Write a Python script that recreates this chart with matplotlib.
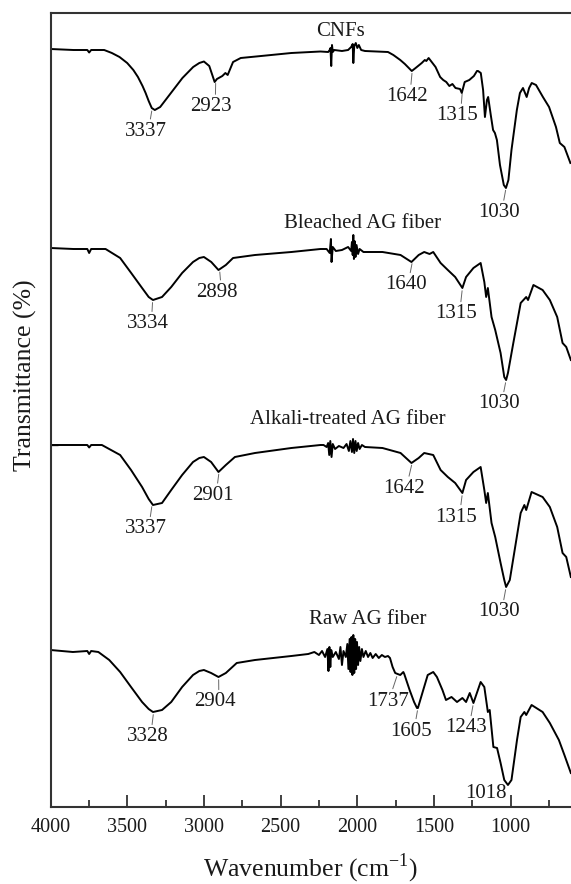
import numpy as np
import matplotlib
matplotlib.use("Agg")
import matplotlib.pyplot as plt
from matplotlib.ticker import MultipleLocator

plt.rcParams['font.family'] = ['Liberation Serif', 'DejaVu Serif']
plt.rcParams['mathtext.fontset'] = 'custom'
plt.rcParams['mathtext.rm'] = 'Liberation Serif'

# ---------------- data (wavenumber cm-1, stacked transmittance a.u.) ----------------
cnf_wn = [4000, 3850, 3760, 3748, 3735, 3650, 3600, 3550, 3500, 3460, 3430, 3400, 3380, 3360, 3340, 3320,
          3285, 3240, 3190, 3140, 3070, 3030, 3000, 2965, 2930, 2915, 2880, 2860, 2845, 2810, 2760,
          2660, 2430, 2240, 2190, 2180, 2175, 2170, 2165, 2160, 2150, 2100, 2060, 2040, 2030, 2026,
          2020, 2010, 2000, 1990, 1975, 1950, 1800, 1765, 1720, 1690, 1645, 1620, 1580, 1560, 1550,
          1535, 1510, 1490, 1460, 1440, 1420, 1400, 1380, 1360, 1330, 1319, 1300, 1270, 1240, 1220,
          1213, 1195, 1180, 1168, 1155, 1147, 1130, 1115, 1103, 1090, 1070, 1045, 1031, 1015, 995,
          960, 940, 920, 896, 880, 863, 835, 790, 750, 705, 680, 650, 611]
cnf_t = [758, 757, 757, 754.5, 757, 757, 754, 750, 744, 737, 730, 721, 714, 706, 699, 697,
         700, 709, 719, 729, 740, 744, 745.5, 741, 725, 728, 731, 734, 732, 745, 749,
         750.5, 754, 755.5, 755, 757, 759, 741, 762, 755, 757, 756, 757, 760, 763, 744,
         761, 764, 759, 762, 757, 756, 755, 752, 747, 743, 736, 739, 744, 747, 746,
         749, 744, 740, 730, 727, 725, 721, 723, 719, 718, 714, 725, 727, 731, 736,
         736, 734, 717, 690, 707, 710, 692, 677, 674, 667, 642, 622, 619, 627, 657,
         697, 714, 719, 710, 719, 724, 722, 710, 700, 680, 664, 660, 644]

bleached_wn = [4000, 3850, 3760, 3748, 3735, 3641, 3546, 3474, 3403, 3360, 3332, 3273, 3213, 3142,
               3071, 3030, 3000, 2952, 2905, 2857, 2810, 2667, 2430, 2240, 2200, 2180, 2172, 2168,
               2160, 2140, 2100, 2060, 2040, 2035, 2030, 2026, 2022, 2018, 2012, 2005, 1995, 1985,
               1960, 1836, 1718, 1647, 1600, 1564, 1529, 1505, 1457, 1410, 1362, 1315, 1291, 1243,
               1196, 1172, 1160, 1149, 1125, 1101, 1066, 1042, 1030, 1018, 983, 935, 899, 887, 852,
               792, 745, 697, 662, 638, 608]
bleached_t = [559, 558, 558, 554, 558, 558, 549, 534, 519, 510, 507, 510, 520, 534,
              545, 549, 550, 545, 537, 542, 549, 552, 555, 558, 558, 554, 568, 545,
              560, 556, 557, 560, 556, 565, 552, 572, 548, 566, 550, 562, 553, 558,
              555, 555, 552, 545, 552, 555, 553, 555, 544, 537, 530, 519, 530, 539,
              544, 525, 510, 519, 490, 477, 454, 430, 427, 434, 464, 504, 510, 507, 522,
              517, 507, 490, 464, 460, 447]

alkali_wn = [4000, 3760, 3748, 3735, 3665, 3546, 3475, 3403, 3360, 3332, 3273, 3213, 3142, 3071,
             3030, 3000, 2953, 2905, 2857, 2798, 2667, 2430, 2240, 2220, 2200, 2190, 2183, 2176,
             2168, 2160, 2145, 2120, 2090, 2070, 2055, 2045, 2035, 2028, 2020, 2012, 2004, 1995,
             1985, 1970, 1950, 1836, 1718, 1647, 1600, 1564, 1505, 1457, 1410, 1362, 1315, 1291,
             1243, 1196, 1172, 1160, 1149, 1125, 1101, 1066, 1042, 1030, 1006, 971, 935, 911, 899,
             864, 792, 745, 697, 662, 638, 608]
alkali_t = [362, 362, 359.5, 362, 362, 352, 337, 320, 308, 302, 304, 317, 332, 345,
            349, 350, 345, 335, 342, 350, 354, 359, 362, 362, 360, 364, 352, 366,
            350, 363, 358, 361, 359, 363, 356, 366, 355, 368, 354, 366, 356, 364,
            358, 362, 360, 359, 354, 344, 349, 354, 352, 337, 330, 324, 314, 327,
            335, 340, 317, 304, 314, 284, 270, 244, 227, 220, 227, 260, 294, 302, 297,
            315, 310, 300, 280, 254, 250, 230]

raw_wn = [4000, 3854, 3760, 3748, 3735, 3688, 3617, 3546, 3475, 3403, 3360, 3332, 3273, 3213, 3142,
          3071, 3030, 3000, 2953, 2905, 2857, 2786, 2667, 2430, 2320, 2280, 2250, 2230, 2210, 2195,
          2188, 2182, 2176, 2170, 2160, 2140, 2120, 2110, 2100, 2090, 2075, 2065, 2058, 2050, 2044,
          2038, 2032, 2026, 2020, 2014, 2008, 2002, 1995, 1988, 1980, 1970, 1960, 1945, 1930, 1915,
          1900, 1880, 1860, 1840, 1820, 1800, 1787, 1770, 1753, 1737, 1720, 1700, 1694, 1659, 1630,
          1611, 1605, 1576, 1541, 1505, 1481, 1445, 1422, 1386, 1350, 1315, 1291, 1267, 1243, 1196,
          1172, 1149, 1137, 1113, 1089, 1066, 1042, 1018, 995, 959, 935, 911, 899, 864, 792, 745,
          686, 650, 608]
raw_t = [157, 155, 156, 153, 156, 155, 147, 135, 120, 105, 98, 95, 97, 105, 120,
         132, 136, 137, 134, 130, 134, 144, 147, 151, 153, 155, 152, 156, 150, 158,
         136, 160, 140, 157, 150, 155, 148, 160, 142, 156, 150, 163, 138, 168, 135,
         170, 132, 172, 134, 168, 138, 165, 142, 160, 146, 158, 150, 156, 150, 154,
         149, 153, 149, 152, 150, 151, 149, 140, 134, 133, 132, 135, 133, 117, 105,
         99, 99, 114, 132, 135, 130, 117, 107, 110, 105, 109, 105, 114, 104, 125,
         120, 95, 97, 60, 59, 44, 27, 22, 27, 67, 90, 95, 92, 102, 95, 84,
         67, 52, 34]

series_names = ["CNFs", "Bleached AG fiber", "Alkali-treated AG fiber", "Raw AG fiber"]
name_pos = [(2110, 775), (1969, 584), (2060, 388), (1930, 187)]

cnf_peaks = [3337, 2923, 1642, 1315, 1030]
bleached_peaks = [3334, 2898, 1640, 1315, 1030]
alkali_peaks = [3337, 2901, 1642, 1315, 1030]
raw_peaks = [3328, 2904, 1737, 1605, 1243, 1018]

# label offsets (pixels: right, down) from the curve point
cnf_off = [(-6.5, 23), (-4.5, 26), (-5.7, 26), (-5.4, 25), (-7, 25)]
bleached_off = [(-5, 24), (-3, 23), (-7, 24), (-6, 26), (-7, 24)]
alkali_off = [(-6.5, 25), (-6, 24), (-8, 26), (-6, 24), (-7, 25)]
raw_off = [(-6, 25), (-4, 25), (-10, 27), (-6.5, 23), (-7, 25), (-22.5, 9)]

# ---------------- figure ----------------
W, H = 571, 884
fig = plt.figure(figsize=(W / 100, H / 100), dpi=100)
ax = fig.add_axes([50.5 / W, (H - 807) / H, 1 - 50.5 / W, 794 / H])

series = [(cnf_wn, cnf_t, cnf_peaks, cnf_off),
          (bleached_wn, bleached_t, bleached_peaks, bleached_off),
          (alkali_wn, alkali_t, alkali_peaks, alkali_off),
          (raw_wn, raw_t, raw_peaks, raw_off)]

for (wn, t, peaks, offs), name, npos in zip(series, series_names, name_pos):
    ax.plot(wn, t, color='black', lw=1.4, solid_joinstyle='round')
    wn_a = np.array(wn)[::-1]
    t_a = np.array(t)[::-1]
    for pk, (dx, dy) in zip(peaks, offs):
        yv = np.interp(pk, wn_a, t_a)
        leader = None
        if pk != 1018:
            leader = dict(arrowstyle='-', color='#666666', lw=0.7,
                          shrinkA=0, shrinkB=2, relpos=(0.6, 1.0))
        ax.annotate(str(pk), xy=(pk, yv), xytext=(dx, -dy), textcoords='offset pixels',
                    ha='center', va='center', fontsize=15, color='#1a1a1a',
                    arrowprops=leader)
    ax.text(npos[0], npos[1], name, ha='center', va='center', fontsize=15, color='#1a1a1a')

ax.set_xlim(4000, 607)
ax.set_ylim(0, 794)
ax.xaxis.set_major_locator(MultipleLocator(500))
ax.xaxis.set_minor_locator(MultipleLocator(250))
ax.set_yticks([362])
ax.set_yticklabels([])
ax.tick_params(axis='x', which='major', direction='in', length=9, width=1.3,
               labelsize=14.5, pad=8, colors='#333333', labelcolor='#1a1a1a')
ax.tick_params(axis='x', which='minor', direction='in', length=5, width=1.3, colors='#333333')
ax.tick_params(axis='y', direction='in', length=5, width=1.0, colors='#333333')
ax.spines['right'].set_visible(False)
for s in ['left', 'top', 'bottom']:
    ax.spines[s].set_linewidth(1.5)
    ax.spines[s].set_color('#333333')

ax.set_xlabel(r'Wavenumber (cm$^{\mathregular{-1}}$)', fontsize=18.5, color='#1a1a1a')
ax.xaxis.set_label_coords(0.5, -0.056)
ax.set_ylabel('Transmittance (%)', fontsize=18.5, color='#1a1a1a', va='center')
ax.yaxis.set_label_coords(-0.049, 0.544)

fig.savefig('out.png', dpi=100)
